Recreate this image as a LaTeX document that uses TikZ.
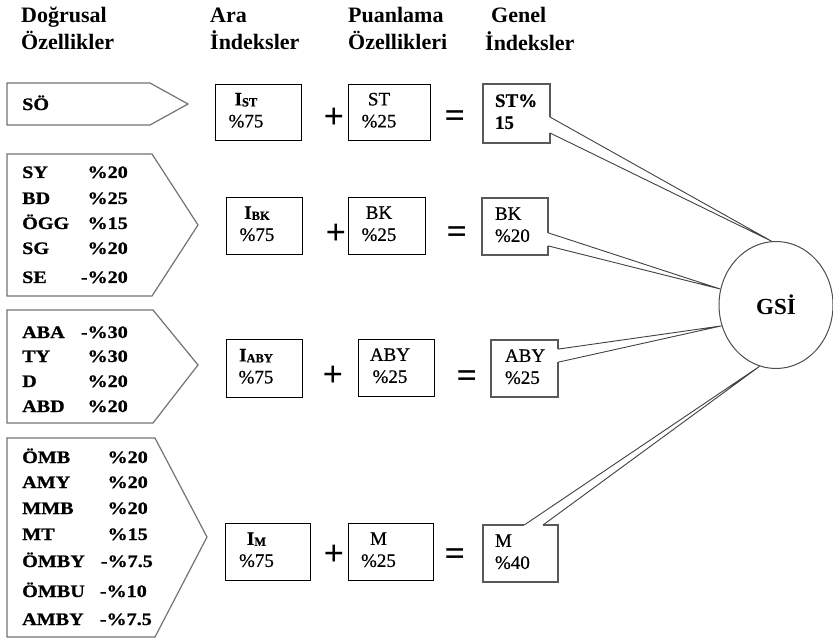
\documentclass[tikz,border=0pt]{standalone}
\usepackage{fontspec}
\setmainfont{Liberation Serif}
\newfontfamily\widebf{Liberation Serif}[FakeStretch=1.15,FakeBold=0.9]
\newfontfamily\midfont{Liberation Serif}[FakeBold=0.6]
\usetikzlibrary{shapes.geometric,calc}

% two centred lines, pushed left by half of #1
\newcommand\twoline[3]{\begin{tabular}{@{}c@{}}#2\\#3\end{tabular}\hspace*{#1}}
% two left-aligned lines after a left pad #1
\newcommand\leftpair[4]{\makebox[#1][l]{\hspace*{#2}\begin{tabular}{@{}l@{}}#3\\#4\end{tabular}}}
% small capital index on the baseline
\newcommand\idx[1]{\raisebox{-1pt}{\fontsize{12.5}{12.5}\selectfont\bfseries #1}}

\begin{document}
\begin{tikzpicture}[x=1pt,y=-1pt,
  hdr/.style={font=\fontsize{22}{24}\selectfont\bfseries, anchor=base west, inner sep=0},
  ltxt/.style={font=\widebf\fontsize{17.5}{19}\selectfont\bfseries, anchor=base west, inner sep=0},
  lval/.style={ltxt, anchor=base east},
  lshape/.style={draw=black!55, line width=1.2pt, fill=white, line join=miter},
  abox/.style={draw=black, line width=0.8pt, inner sep=0, outer sep=0, font=\midfont\fontsize{19}{22}\selectfont},
  gbox/.style={draw=black!65, line width=1.1pt, fill=white, inner sep=0, outer sep=0, font=\midfont\fontsize{19}{22}\selectfont},
  op/.style={font=\fontsize{36}{36}\selectfont\bfseries, inner sep=0},
  link/.style={draw=black!75, line width=0.9pt},
]
\useasboundingbox (0,0) rectangle (833,639);

% column headings
\node[hdr] (h1a) at (21,23) {Doğrusal};
\node[hdr] (h1b) at (21,50) {Özellikler};
\node[hdr] (h2a) at (210,23) {Ara};
\node[hdr] (h2b) at (210,50) {İndeksler};
\node[hdr] (h3a) at (348,23) {Puanlama};
\node[hdr] (h3b) at (348,50) {Özellikleri};
\node[hdr] (h4a) at (491,23) {Genel};
\node[hdr] (h4b) at (485,51) {İndeksler};

% linear feature groups (pointed boxes)
\draw[lshape] (7,83) -- (150,83) -- (188,104) -- (150,125) -- (7,125) -- cycle;
\draw[lshape] (7,154) -- (152,154) -- (198,225) -- (152,296) -- (7,296) -- cycle;
\draw[lshape] (7,310) -- (153,310) -- (198,365) -- (153,423) -- (7,423) -- cycle;
\draw[lshape] (7,438) -- (155,438) -- (207,537) -- (155,637) -- (7,637) -- cycle;

\node[ltxt] (so) at (22,110) {SÖ};

\foreach \y/\n/\v [count=\i] in {178/SY/\%20, 204/BD/\%25, 229/ÖGG/\%15, 254/SG/\%20, 283/SE/-\%20}{
  \node[ltxt] (bkn\i) at (22,\y) {\n};
  \node[lval] (bkv\i) at (128,\y) {\v};
}
\foreach \y/\n/\v [count=\i] in {338/ABA/-\%30, 362/TY/\%30, 387/D/\%20, 412/ABD/\%20}{
  \node[ltxt] (abn\i) at (22,\y) {\n};
  \node[lval] (abv\i) at (128,\y) {\v};
}
\foreach \y/\n/\v/\x [count=\i] in {463/ÖMB/\%20/148, 488/AMY/\%20/148, 514/MMB/\%20/148,
    540/MT/\%15/148, 567/ÖMBY/-\%7.5/153, 597/ÖMBU/-\%10/147, 625/AMBY/-\%7.5/152}{
  \node[ltxt] (mn\i) at (22,\y) {\n};
  \node[lval] (mv\i) at (\x,\y) {\v};
}

% row ST
\node[abox, minimum width=86, minimum height=56] (ist) at (258,112) {\twoline{24pt}{{\bfseries I}\idx{ST}}{\%75}};
\node[op] (pl1) at (334,118) {+};
\node[abox, minimum width=82, minimum height=56] (pst) at (389,112) {\twoline{20pt}{ST}{\%25}};
\node[op] (eq1) at (455,119) {=};
\node[gbox, minimum width=67, minimum height=59] (gst) at (516.5,113.5) {\bfseries\leftpair{67pt}{12pt}{ST\%}{15}};

% row BK
\node[abox, minimum width=76, minimum height=57] (ibk) at (264,225.5) {\twoline{14pt}{{\bfseries I}\idx{BK}}{\%75}};
\node[op] (pl2) at (336,234) {+};
\node[abox, minimum width=77, minimum height=57] (pbk) at (386.5,225.5) {\twoline{15pt}{BK}{\%25}};
\node[op] (eq2) at (457,235) {=};
\node[gbox, minimum width=66, minimum height=57] (gbk) at (515,226.5) {\leftpair{66pt}{13pt}{BK}{\%20}};

% row ABY
\node[abox, minimum width=76, minimum height=58] (iaby) at (264,368) {\twoline{16pt}{{\bfseries I}\idx{ABY}}{\%75}};
\node[op] (pl3) at (333,376) {+};
\node[abox, minimum width=76, minimum height=57] (paby) at (396,367.5) {\twoline{12pt}{ABY}{\%25}};
\node[op] (eq3) at (467,379) {=};
\node[gbox, minimum width=67, minimum height=57] (gaby) at (524.5,368.5) {\leftpair{67pt}{14pt}{ABY}{\%25}};

% row M
\node[abox, minimum width=85, minimum height=57] (im) at (267.5,551.5) {\twoline{22pt}{{\bfseries I}\idx{M}}{\%75}};
\node[op] (pl4) at (334,555) {+};
\node[abox, minimum width=85, minimum height=57] (pm) at (390.5,551.5) {\twoline{24pt}{M}{\%25}};
\node[op] (eq4) at (455,557) {=};
\node[gbox, minimum width=75, minimum height=57] (gm) at (520.5,553.5) {\leftpair{75pt}{12pt}{M}{\%40}};

% overall index
\node[ellipse, draw=black!70, line width=1pt, minimum width=114, minimum height=127, inner sep=0,
      font=\fontsize{23}{23}\selectfont\bfseries] (gsi) at (776,305) {GSİ};

% callout wedges from the general indices to GSİ
\foreach \b/\fa/\fb/\ang in {gst/0.56/0.83/94, gbk/0.61/0.84/164, gaby/0.16/0.39/201}{
  \draw[white, line width=2pt] ($(\b.north east)!\fa!(\b.south east)$) -- ($(\b.north east)!\fb!(\b.south east)$);
  \draw[link] ($(\b.north east)!\fa!(\b.south east)$) -- (gsi.\ang) -- ($(\b.north east)!\fb!(\b.south east)$);
}
\draw[white, line width=2pt] ($(gm.north west)!0.55!(gm.north east)$) -- ($(gm.north west)!0.8!(gm.north east)$);
\draw[link] ($(gm.north west)!0.55!(gm.north east)$) -- (gsi.255) -- ($(gm.north west)!0.8!(gm.north east)$);
\end{tikzpicture}
\end{document}
